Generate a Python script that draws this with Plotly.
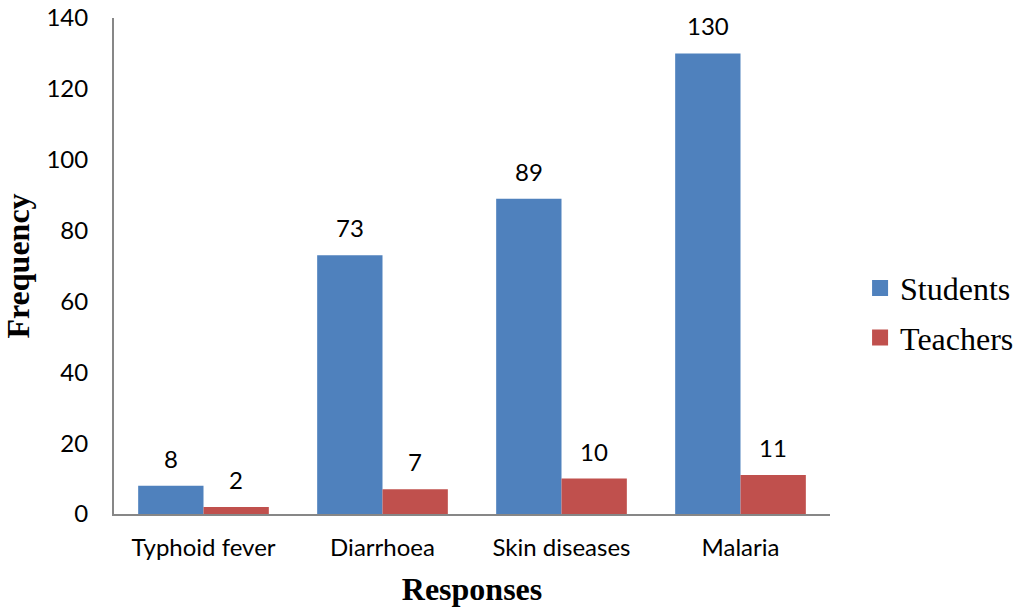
import plotly.graph_objects as go

categories = ["Typhoid fever", "Diarrhoea", "Skin diseases", "Malaria"]
students = [8, 73, 89, 130]
teachers = [2, 7, 10, 11]
y_ticks = [0, 20, 40, 60, 80, 100, 120, 140]

BLUE = "#4F81BD"
RED = "#C0504D"
LABEL_FONT = dict(family="Lato, Carlito, Calibri, sans-serif", size=24, color="#000000")
SERIF_FONT = dict(family="Liberation Serif, Times New Roman, serif", size=32, color="#000000")

fig = go.Figure()
fig.add_trace(go.Bar(name="Students", x=categories, y=students, showlegend=False,
                     marker=dict(color=BLUE, line=dict(width=0))))
fig.add_trace(go.Bar(name="Teachers", x=categories, y=teachers, showlegend=False,
                     marker=dict(color=RED, line=dict(width=0))))

# legend entries with larger square swatches, one group each for spacing
for name, color in (("Students", BLUE), ("Teachers", RED)):
    fig.add_trace(go.Scatter(name=name, x=[None], y=[None], mode="markers",
                             legendgroup=name,
                             marker=dict(symbol="square", size=16, color=color)))

# value labels above each bar, shifted to the centre of its bar in the group
plot_w = 1018 - 114 - 188
cat_w = plot_w / len(categories)
bargap = 0.27
bar_w = cat_w * (1 - bargap) / 2
for series, shift in ((students, -bar_w / 2), (teachers, bar_w / 2)):
    for cat, val in zip(categories, series):
        fig.add_annotation(x=cat, y=val, xref="x", yref="y", text=str(val),
                           showarrow=False, xshift=shift, yshift=11,
                           yanchor="bottom", font=LABEL_FONT)

fig.update_layout(
    width=1018, height=610,
    margin=dict(l=114, r=188, t=18, b=96, autoexpand=False),
    paper_bgcolor="white", plot_bgcolor="white",
    barmode="group", bargap=bargap, bargroupgap=0,
    showlegend=True,
    legend=dict(x=1.042, y=0.405, xanchor="left", yanchor="middle",
                font=SERIF_FONT, itemwidth=30, tracegroupgap=5,
                bgcolor="rgba(0,0,0,0)"),
    xaxis=dict(showline=True, linecolor="#878787", linewidth=2, ticks="",
               tickfont=LABEL_FONT, ticklabelstandoff=11, automargin=False,
               title=dict(text="<b>Responses</b>", standoff=18, font=SERIF_FONT)),
    yaxis=dict(range=[0, 140], tickvals=y_ticks, showline=True, linecolor="#878787", linewidth=2,
               showgrid=False, zeroline=False, ticks="", tickfont=LABEL_FONT, ticklabelstandoff=19,
               automargin=False,
               title=dict(text="<b>Frequency</b>", standoff=19, font=SERIF_FONT)),
)

fig.write_html("out.html")
